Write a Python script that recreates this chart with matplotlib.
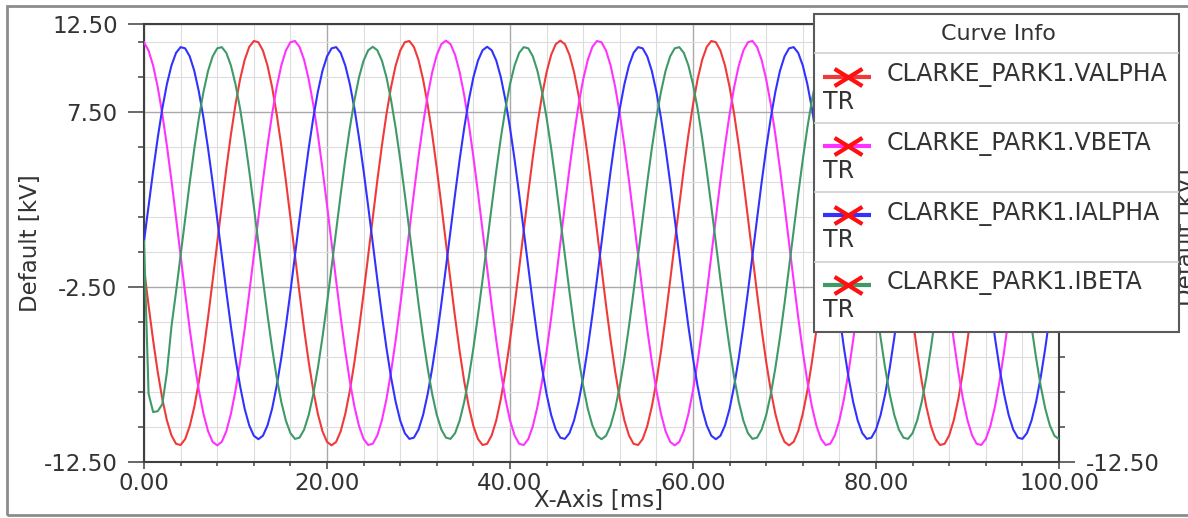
import numpy as np
import matplotlib
matplotlib.use('Agg')
import matplotlib.pyplot as plt
from matplotlib.patches import Rectangle
from matplotlib.path import Path
from matplotlib.ticker import FixedLocator, MultipleLocator

plt.rcParams['font.family'] = ['DejaVu Sans']

# ---------------- data (0.5 ms samples) ----------------
sample_step_ms = 0.5

red_valpha = [
    -1.45, -3.57, -5.56, -7.36, -8.90, -10.12, -10.98, -11.46, -11.53, -11.19,
    -10.45, -9.34, -7.91, -6.19, -4.25, -2.16, 0.00, 2.16, 4.25, 6.19,
    7.91, 9.34, 10.45, 11.19, 11.53, 11.46, 10.98, 10.12, 8.90, 7.36,
    5.56, 3.57, 1.45, -0.73, -2.87, -4.92, -6.79, -8.42, -9.75, -10.74,
    -11.35, -11.55, -11.35, -10.74, -9.75, -8.42, -6.79, -4.92, -2.87, -0.73,
    1.45, 3.57, 5.56, 7.36, 8.90, 10.12, 10.98, 11.46, 11.53, 11.19,
    10.45, 9.34, 7.91, 6.19, 4.25, 2.16, 0.00, -2.16, -4.25, -6.19,
    -7.91, -9.34, -10.45, -11.19, -11.53, -11.46, -10.98, -10.12, -8.90, -7.36,
    -5.56, -3.57, -1.45, 0.73, 2.87, 4.92, 6.79, 8.42, 9.75, 10.74,
    11.35, 11.55, 11.35, 10.74, 9.75, 8.42, 6.79, 4.92, 2.87, 0.73,
    -1.45, -3.57, -5.56, -7.36, -8.90, -10.12, -10.98, -11.46, -11.53, -11.19,
    -10.45, -9.34, -7.91, -6.19, -4.25, -2.16, 0.00, 2.16, 4.25, 6.19,
    7.91, 9.34, 10.45, 11.19, 11.53, 11.46, 10.98, 10.12, 8.90, 7.36,
    5.56, 3.57, 1.45, -0.73, -2.87, -4.92, -6.79, -8.42, -9.75, -10.74,
    -11.35, -11.55, -11.35, -10.74, -9.75, -8.42, -6.79, -4.92, -2.87, -0.73,
    1.45, 3.57, 5.56, 7.36, 8.90, 10.12, 10.98, 11.46, 11.53, 11.19,
    10.45, 9.34, 7.91, 6.19, 4.25, 2.16, 0.00, -2.16, -4.25, -6.19,
    -7.91, -9.34, -10.45, -11.19, -11.53, -11.46, -10.98, -10.12, -8.90, -7.36,
    -5.56, -3.57, -1.45, 0.73, 2.87, 4.92, 6.79, 8.42, 9.75, 10.74,
    11.35, 11.55, 11.35, 10.74, 9.75, 8.42, 6.79, 4.92, 2.87, 0.73,
    -1.45,
]

magenta_vbeta = [
    11.46, 10.98, 10.12, 8.90, 7.36, 5.56, 3.57, 1.45, -0.73, -2.87,
    -4.92, -6.79, -8.42, -9.75, -10.74, -11.35, -11.55, -11.35, -10.74, -9.75,
    -8.42, -6.79, -4.92, -2.87, -0.73, 1.45, 3.57, 5.56, 7.36, 8.90,
    10.12, 10.98, 11.46, 11.53, 11.19, 10.45, 9.34, 7.91, 6.19, 4.25,
    2.16, 0.00, -2.16, -4.25, -6.19, -7.91, -9.34, -10.45, -11.19, -11.53,
    -11.46, -10.98, -10.12, -8.90, -7.36, -5.56, -3.57, -1.45, 0.73, 2.87,
    4.92, 6.79, 8.42, 9.75, 10.74, 11.35, 11.55, 11.35, 10.74, 9.75,
    8.42, 6.79, 4.92, 2.87, 0.73, -1.45, -3.57, -5.56, -7.36, -8.90,
    -10.12, -10.98, -11.46, -11.53, -11.19, -10.45, -9.34, -7.91, -6.19, -4.25,
    -2.16, 0.00, 2.16, 4.25, 6.19, 7.91, 9.34, 10.45, 11.19, 11.53,
    11.46, 10.98, 10.12, 8.90, 7.36, 5.56, 3.57, 1.45, -0.73, -2.87,
    -4.92, -6.79, -8.42, -9.75, -10.74, -11.35, -11.55, -11.35, -10.74, -9.75,
    -8.42, -6.79, -4.92, -2.87, -0.73, 1.45, 3.57, 5.56, 7.36, 8.90,
    10.12, 10.98, 11.46, 11.53, 11.19, 10.45, 9.34, 7.91, 6.19, 4.25,
    2.16, 0.00, -2.16, -4.25, -6.19, -7.91, -9.34, -10.45, -11.19, -11.53,
    -11.46, -10.98, -10.12, -8.90, -7.36, -5.56, -3.57, -1.45, 0.73, 2.87,
    4.92, 6.79, 8.42, 9.75, 10.74, 11.35, 11.55, 11.35, 10.74, 9.75,
    8.42, 6.79, 4.92, 2.87, 0.73, -1.45, -3.57, -5.56, -7.36, -8.90,
    -10.12, -10.98, -11.46, -11.53, -11.19, -10.45, -9.34, -7.91, -6.19, -4.25,
    -2.16, 0.00, 2.16, 4.25, 6.19, 7.91, 9.34, 10.45, 11.19, 11.53,
    11.46,
]

blue_ialpha = [
    0.10, 2.10, 4.12, 6.00, 7.67, 9.06, 10.13, 10.85, 11.18, 11.11,
    10.65, 9.82, 8.63, 7.14, 5.40, 3.46, 1.40, -0.70, -2.79, -4.77,
    -6.58, -8.16, -9.46, -10.41, -11.00, -11.20, -11.00, -10.41, -9.46, -8.16,
    -6.58, -4.77, -2.79, -0.70, 1.40, 3.46, 5.40, 7.14, 8.63, 9.82,
    10.65, 11.11, 11.18, 10.85, 10.13, 9.06, 7.67, 6.00, 4.12, 2.10,
    0.00, -2.10, -4.12, -6.00, -7.67, -9.06, -10.13, -10.85, -11.18, -11.11,
    -10.65, -9.82, -8.63, -7.14, -5.40, -3.46, -1.40, 0.70, 2.79, 4.77,
    6.58, 8.16, 9.46, 10.41, 11.00, 11.20, 11.00, 10.41, 9.46, 8.16,
    6.58, 4.77, 2.79, 0.70, -1.40, -3.46, -5.40, -7.14, -8.63, -9.82,
    -10.65, -11.11, -11.18, -10.85, -10.13, -9.06, -7.67, -6.00, -4.12, -2.10,
    0.00, 2.10, 4.12, 6.00, 7.67, 9.06, 10.13, 10.85, 11.18, 11.11,
    10.65, 9.82, 8.63, 7.14, 5.40, 3.46, 1.40, -0.70, -2.79, -4.77,
    -6.58, -8.16, -9.46, -10.41, -11.00, -11.20, -11.00, -10.41, -9.46, -8.16,
    -6.58, -4.77, -2.79, -0.70, 1.40, 3.46, 5.40, 7.14, 8.63, 9.82,
    10.65, 11.11, 11.18, 10.85, 10.13, 9.06, 7.67, 6.00, 4.12, 2.10,
    0.00, -2.10, -4.12, -6.00, -7.67, -9.06, -10.13, -10.85, -11.18, -11.11,
    -10.65, -9.82, -8.63, -7.14, -5.40, -3.46, -1.40, 0.70, 2.79, 4.77,
    6.58, 8.16, 9.46, 10.41, 11.00, 11.20, 11.00, 10.41, 9.46, 8.16,
    6.58, 4.77, 2.79, 0.70, -1.40, -3.46, -5.40, -7.14, -8.63, -9.82,
    -10.65, -11.11, -11.18, -10.85, -10.13, -9.06, -7.67, -6.00, -4.12, -2.10,
    0.00,
]

green_ibeta = [
    0.10, -8.60, -9.65, -9.60, -9.20, -7.40, -4.77, -2.79, -0.70, 1.40,
    3.46, 5.40, 7.14, 8.63, 9.82, 10.65, 11.11, 11.18, 10.85, 10.13,
    9.06, 7.67, 6.00, 4.12, 2.10, 0.00, -2.10, -4.12, -6.00, -7.67,
    -9.06, -10.13, -10.85, -11.18, -11.11, -10.65, -9.82, -8.63, -7.14, -5.40,
    -3.46, -1.40, 0.70, 2.79, 4.77, 6.58, 8.16, 9.46, 10.41, 11.00,
    11.20, 11.00, 10.41, 9.46, 8.16, 6.58, 4.77, 2.79, 0.70, -1.40,
    -3.46, -5.40, -7.14, -8.63, -9.82, -10.65, -11.11, -11.18, -10.85, -10.13,
    -9.06, -7.67, -6.00, -4.12, -2.10, 0.00, 2.10, 4.12, 6.00, 7.67,
    9.06, 10.13, 10.85, 11.18, 11.11, 10.65, 9.82, 8.63, 7.14, 5.40,
    3.46, 1.40, -0.70, -2.79, -4.77, -6.58, -8.16, -9.46, -10.41, -11.00,
    -11.20, -11.00, -10.41, -9.46, -8.16, -6.58, -4.77, -2.79, -0.70, 1.40,
    3.46, 5.40, 7.14, 8.63, 9.82, 10.65, 11.11, 11.18, 10.85, 10.13,
    9.06, 7.67, 6.00, 4.12, 2.10, 0.00, -2.10, -4.12, -6.00, -7.67,
    -9.06, -10.13, -10.85, -11.18, -11.11, -10.65, -9.82, -8.63, -7.14, -5.40,
    -3.46, -1.40, 0.70, 2.79, 4.77, 6.58, 8.16, 9.46, 10.41, 11.00,
    11.20, 11.00, 10.41, 9.46, 8.16, 6.58, 4.77, 2.79, 0.70, -1.40,
    -3.46, -5.40, -7.14, -8.63, -9.82, -10.65, -11.11, -11.18, -10.85, -10.13,
    -9.06, -7.67, -6.00, -4.12, -2.10, 0.00, 2.10, 4.12, 6.00, 7.67,
    9.06, 10.13, 10.85, 11.18, 11.11, 10.65, 9.82, 8.63, 7.14, 5.40,
    3.46, 1.40, -0.70, -2.79, -4.77, -6.58, -8.16, -9.46, -10.41, -11.00,
    -11.20,
]

series_names = ["CLARKE_PARK1.VALPHA", "CLARKE_PARK1.VBETA",
                "CLARKE_PARK1.IALPHA", "CLARKE_PARK1.IBETA"]
series_values = [red_valpha, magenta_vbeta, blue_ialpha, green_ibeta]
series_colors = ["#f03a3a", "#ff33ff", "#3232ff", "#3f9a68"]
series_suffix = "TR"

x_major_ticks = [0, 20, 40, 60, 80, 100]
x_tick_labels = ["0.00", "20.00", "40.00", "60.00", "80.00", "100.00"]
y_major_ticks = [-12.5, -2.5, 7.5, 12.5]
y_tick_labels = ["-12.50", "-2.50", "7.50", "12.50"]
y_minor_ticks = [-10.5, -8.5, -6.5, -4.5, -0.5, 1.5, 3.5, 5.5, 9.5, 11.5]

# ---------------- figure ----------------
W, H = 1188, 518
fig = plt.figure(figsize=(W / 100, H / 100), dpi=100)
fig.patch.set_facecolor('white')


def fx(px):
    return px / W


def fy(py):
    return 1 - py / H


ax = fig.add_axes([fx(144), fy(462), fx(1059) - fx(144), fy(24) - fy(462)])
ax.set_facecolor('white')

t_ms = np.arange(len(red_valpha)) * sample_step_ms
for vals, col in zip(series_values, series_colors):
    ax.plot(t_ms, vals, color=col, lw=1.5, zorder=3)

ax.set_xlim(0, 100)
ax.set_ylim(-12.5, 12.5)
ax.xaxis.set_major_locator(FixedLocator(x_major_ticks))
ax.set_xticklabels(x_tick_labels)
ax.xaxis.set_minor_locator(MultipleLocator(4))
ax.yaxis.set_major_locator(FixedLocator(y_major_ticks))
ax.set_yticklabels(y_tick_labels)
ax.yaxis.set_minor_locator(FixedLocator(y_minor_ticks))

ax.set_axisbelow(True)
ax.grid(which='minor', color='#dddddd', lw=0.8)
ax.grid(which='major', color='#a9a9a9', lw=1.0)

spc = '#404040'
for s in ax.spines.values():
    s.set_color(spc)
    s.set_linewidth(1.5)

ax.tick_params(axis='y', which='major', direction='out', length=11.5, width=1.1,
               color=spc, labelsize=16.5, labelcolor='#333333', pad=7.5,
               left=True, right=True, labelleft=True, labelright=True)
ax.tick_params(axis='y', which='minor', direction='out', length=4.5, width=1.1,
               color=spc, left=True, right=True)
ax.tick_params(axis='x', which='major', direction='out', length=5, width=1.1,
               color=spc, labelsize=16.5, labelcolor='#333333', pad=2.5)
ax.tick_params(axis='x', which='minor', direction='out', length=3, width=1.1,
               color=spc)

# right-hand labels for 7.50 and -2.50 sit fully behind the legend box
for tick, val in zip(ax.yaxis.get_major_ticks(), y_major_ticks):
    if val in (7.5, -2.5):
        tick.label2.set_visible(False)

ax.set_xlabel('X-Axis [ms]', fontsize=16.5, color='#333333')
ax.xaxis.set_label_coords((599 - 144) / 915, (462 - 500) / 438)
ax.xaxis.label.set_va('center')
ax.set_ylabel('Default [kV]', fontsize=16.5, color='#333333')
ax.yaxis.set_label_coords((31 - 144) / 915, 0.5)
ax.yaxis.label.set_va('center')

# right axis title (mostly hidden behind the legend box, as in the window)
fig.text(fx(1186), fy(237), 'Default [kV]', rotation=90, ha='center', va='center',
         fontsize=16.5, color='#333333', zorder=1)

# ---------------- legend box ("Curve Info") ----------------
lx0, ly0, lx1, ly1 = 814, 14, 1179, 332
lax = fig.add_axes([fx(lx0), fy(ly1), fx(lx1) - fx(lx0), fy(ly0) - fy(ly1)])
lax.set_zorder(10)
lax.set_xlim(0, lx1 - lx0)
lax.set_ylim(ly1 - ly0, 0)
lax.axis('off')
lax.add_patch(Rectangle((0, 0), lx1 - lx0, ly1 - ly0, facecolor='white',
                        edgecolor='#5a5a5a', lw=1.5, clip_on=False, zorder=0))
lax.text((lx1 - lx0) / 2 + 2, 20, 'Curve Info', ha='center', va='center',
         fontsize=16, color='#333333')
for sy in [39, 109, 178, 248]:
    lax.plot([0, lx1 - lx0], [sy, sy], color='#cfcfcf', lw=1.2, zorder=1)

xmark = Path([(-1, -0.62), (1, 0.62), (-1, 0.62), (1, -0.62)],
             [Path.MOVETO, Path.LINETO, Path.MOVETO, Path.LINETO])
for i, (name, col) in enumerate(zip(series_names, series_colors)):
    y = 62.7 + 69.3 * i
    lax.plot([9, 57], [y, y], color=col, lw=3, solid_capstyle='butt', zorder=2)
    lax.plot([34], [y], marker=xmark, color='#ff1010', ms=20, mew=3, zorder=3)
    lax.text(73, y - 1.5, name, ha='left', va='center', fontsize=17,
             color='#333333')
    lax.text(9, y + 25, series_suffix, ha='left', va='center', fontsize=17,
             color='#333333')

# outer frame of the window
fig.add_artist(Rectangle((fx(7), fy(515)), 1.1, fy(6) - fy(515),
                         transform=fig.transFigure, fill=False,
                         edgecolor='#8c8c8c', lw=2))

fig.savefig('out.png', dpi=100, facecolor='white')
